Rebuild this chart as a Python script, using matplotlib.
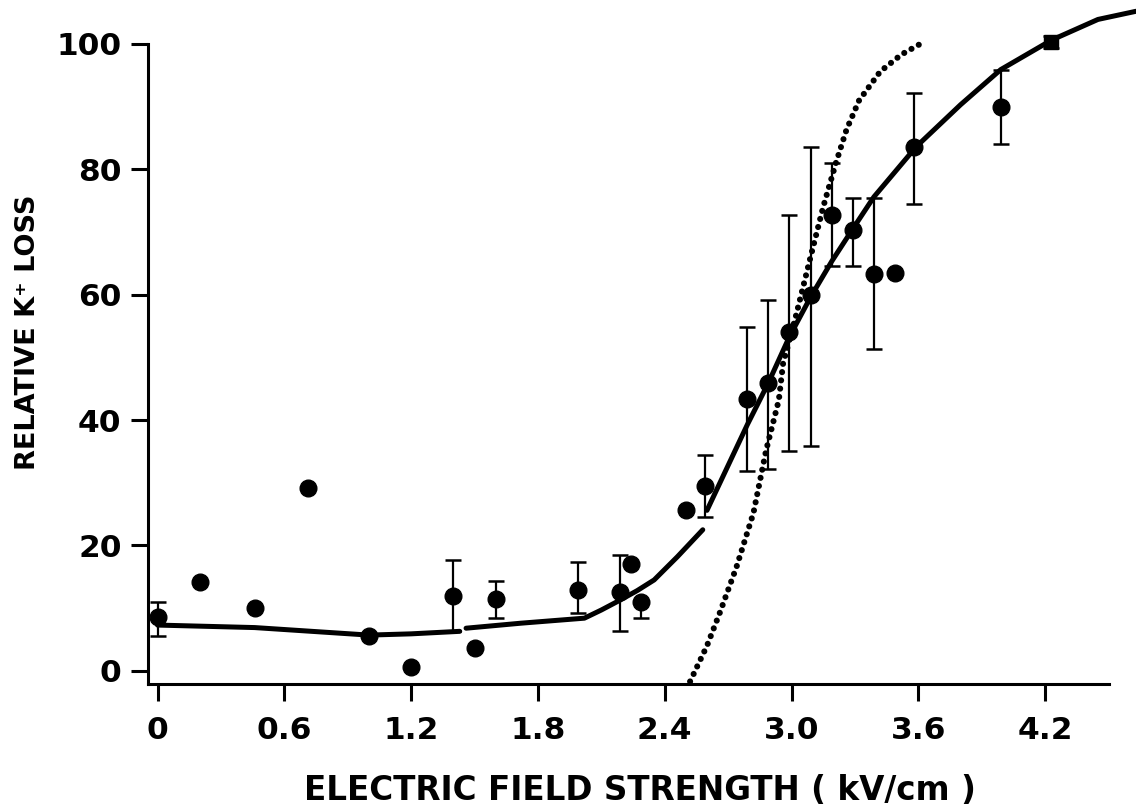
import matplotlib
matplotlib.use("Agg")
import matplotlib.pyplot as plt

# Field strength (kV/cm) and relative K+ loss, single observations
x_single = [0.20, 0.46, 0.71, 1.00, 1.20, 1.50, 2.24, 2.50, 3.49]
y_single = [14.1, 10.1, 29.1, 5.5, 0.6, 3.7, 17.0, 25.7, 63.5]

# Means with error bars (lower / upper extent)
x_err = [0.00, 1.40, 1.60, 1.99, 2.19, 2.29, 2.59, 2.79, 2.89, 2.99, 3.09,
         3.19, 3.29, 3.39, 3.58, 3.99]
y_err = [8.6, 12.0, 11.4, 12.9, 12.5, 11.0, 29.5, 43.3, 45.9, 54.1, 59.9,
         72.7, 70.3, 63.3, 83.5, 90.0]
err_lo = [3.1, 5.7, 2.9, 3.7, 6.1, 2.5, 5.0, 11.5, 13.7, 19.1, 24.1,
          8.1, 5.7, 12.0, 9.0, 6.0]
err_hi = [2.3, 5.7, 2.9, 4.4, 5.9, 0.0, 4.9, 11.6, 13.3, 18.6, 23.7,
          8.3, 5.1, 12.1, 8.7, 5.9]

# Reference point (square)
x_ref = [4.23]
y_ref = [100.3]
ref_err = [1.0]

# Fitted curve, drawn as separate pieces
fit_x1 = [0.00, 0.46, 1.00, 1.20, 1.43]
fit_y1 = [7.3, 6.9, 5.7, 5.9, 6.3]
fit_x2 = [1.46, 1.72, 2.02, 2.10, 2.19, 2.27, 2.35, 2.46, 2.58]
fit_y2 = [6.8, 7.6, 8.4, 9.7, 11.3, 12.8, 14.5, 18.2, 22.5]
fit_x3 = [2.60, 2.79, 2.89, 2.99, 3.09, 3.19, 3.29, 3.39, 3.59, 3.80,
          3.99, 4.23, 4.45, 4.63]
fit_y3 = [25.6, 39.2, 45.9, 53.3, 59.6, 65.3, 70.5, 75.6, 83.6, 90.3,
          95.9, 100.6, 103.9, 105.2]

# Theoretical curve (dotted)
theo_x = [2.52, 2.60, 2.66, 2.74, 2.82, 2.88, 2.94, 2.96, 3.02, 3.09,
          3.15, 3.21, 3.26, 3.32, 3.42, 3.52, 3.62]
theo_y = [-1.7, 4.0, 9.2, 16.6, 25.2, 35.2, 43.2, 49.0, 56.5, 66.0,
          74.0, 81.0, 86.3, 91.0, 95.6, 98.3, 100.2]

x_ticks = [0, 0.6, 1.2, 1.8, 2.4, 3.0, 3.6, 4.2]
x_tick_labels = ["0", "0.6", "1.2", "1.8", "2.4", "3.0", "3.6", "4.2"]
y_ticks = [0, 20, 40, 60, 80, 100]
y_tick_labels = ["0", "20", "40", "60", "80", "100"]

W, H = 1136, 809
fig = plt.figure(figsize=(W / 100, H / 100), dpi=100)
ax = fig.add_axes([148 / W, 1 - 684 / H, 1 - 148 / W, 684 / H])
ax.set_xlim(-0.045, 4.63)
ax.set_ylim(-2.1, 107.0)

ink = "black"
lw_fit = 3.6

ax.plot(fit_x1, fit_y1, color=ink, lw=lw_fit, solid_capstyle="round", zorder=3)
ax.plot(fit_x2, fit_y2, color=ink, lw=lw_fit, solid_capstyle="round", zorder=3)
ax.plot(fit_x3, fit_y3, color=ink, lw=lw_fit, solid_capstyle="round",
        zorder=3, clip_on=False)

ax.plot(theo_x, theo_y, color=ink, lw=4.4, linestyle=(0, (0.01, 1.35)),
        dash_capstyle="round", zorder=2)

ax.errorbar(x_err, y_err, yerr=[err_lo, err_hi], fmt="o", color=ink,
            ms=12, elinewidth=1.6, capsize=6, capthick=1.8, zorder=4)
ax.errorbar(x_ref, y_ref, yerr=ref_err, fmt="s", color=ink, ms=10,
            elinewidth=1.6, capsize=6, capthick=1.8, zorder=4)
ax.plot(x_single, y_single, "o", color=ink, ms=12, zorder=4)

for side in ("top", "right"):
    ax.spines[side].set_visible(False)
ax.spines["left"].set_linewidth(2.2)
ax.spines["bottom"].set_linewidth(2.2)
ax.spines["left"].set_bounds(-2.1, 100)
ax.spines["bottom"].set_bounds(-0.045, 4.5)

tick_font = dict(family="DejaVu Sans", weight="bold", size=22.5)
ax.set_xticks(x_ticks)
ax.set_xticklabels(x_tick_labels, fontdict=tick_font)
ax.set_yticks(y_ticks)
ax.set_yticklabels(y_tick_labels, fontdict=tick_font)
ax.tick_params(axis="both", direction="out", length=12, width=2.2,
               color=ink)
ax.tick_params(axis="x", pad=11)
ax.tick_params(axis="y", pad=7)

fig.text(640 / W, 1 - 790 / H, "ELECTRIC FIELD STRENGTH ( kV/cm )",
         ha="center", va="center", fontsize=23.5,
         family="Liberation Sans Narrow", weight="bold")
fig.text(28 / W, 1 - 332 / H, "RELATIVE K\u207a LOSS", ha="center",
         va="center", rotation=90, fontsize=19.5,
         family="Liberation Sans Narrow", weight="bold")

fig.savefig("out.png", dpi=100)
